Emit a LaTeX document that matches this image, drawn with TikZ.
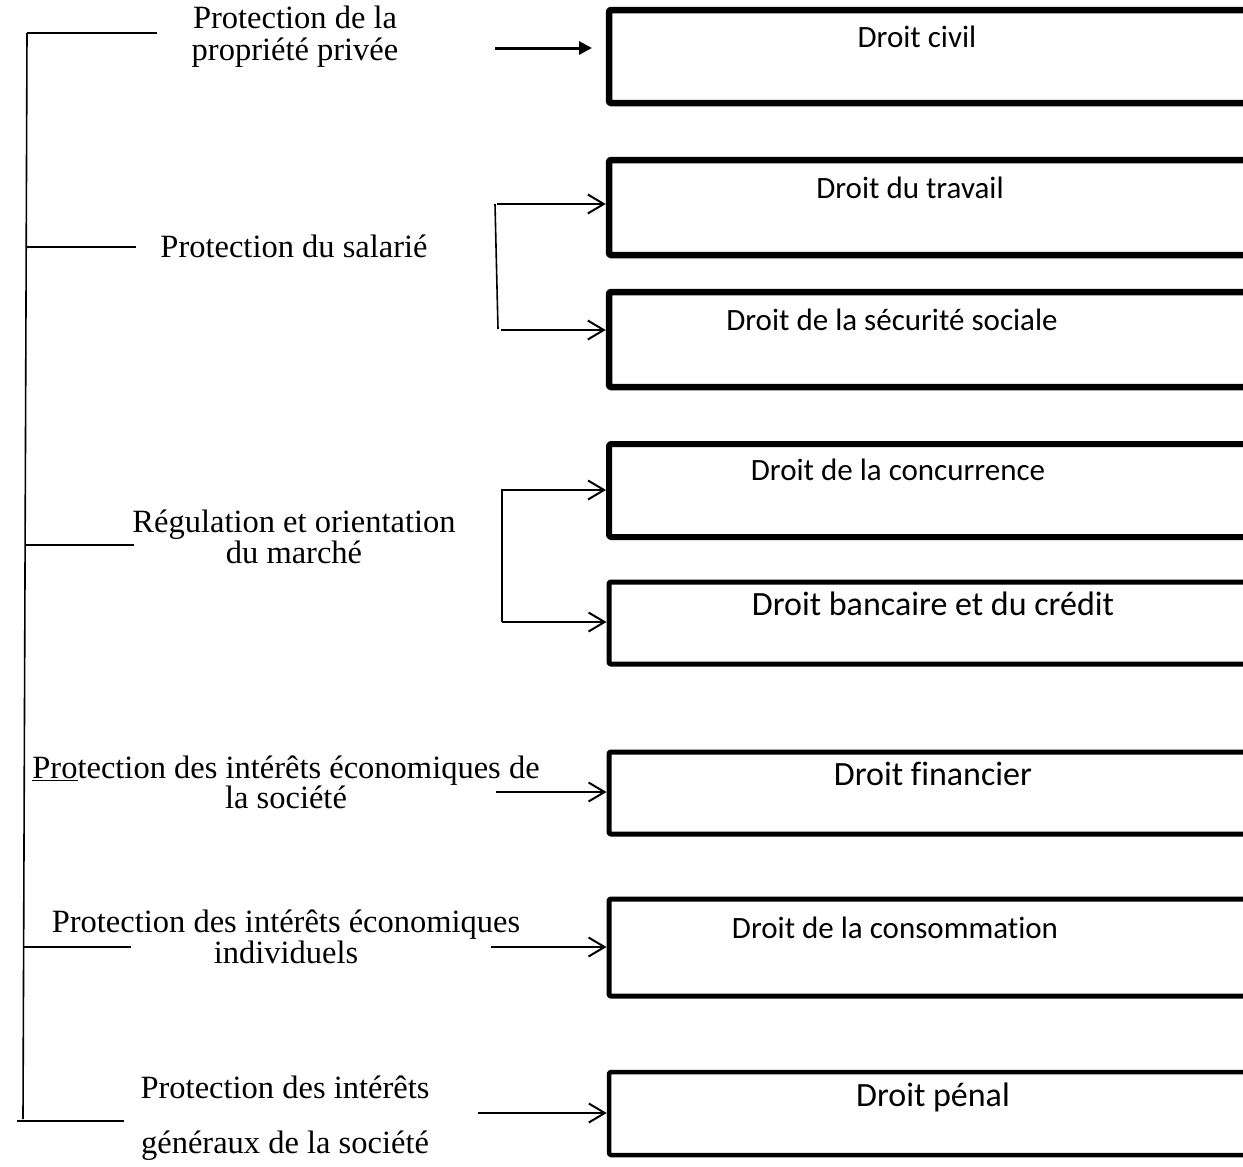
\documentclass[tikz,border=0pt]{standalone}
\usepackage{fontspec}
\setmainfont{Liberation Serif}
\newfontfamily\boxfont[Ligatures={NoCommon,NoDiscretionary,NoContextual}]{Carlito}
\usetikzlibrary{arrows.meta}
\begin{document}
\begin{tikzpicture}[x=1pt,y=-1pt,
  lefttext/.style={font=\fontsize{32.5}{32}\selectfont, inner sep=0pt, anchor=base},
  boxtext/.style={font=\boxfont\fontsize{31}{31}\selectfont, inner sep=0pt, anchor=base},
  bigboxtext/.style={font=\boxfont\fontsize{34}{34}\selectfont, inner sep=0pt, anchor=base},
  lawbox/.style={draw, minimum width=700pt, inner sep=0pt, line join=round, rounded corners=1.5pt},
  thinline/.style={line width=1.6pt},
  arr/.style={line width=2pt, -{Straight Barb[length=16pt,width=19pt]}},
  heavyarr/.style={line width=3pt, -{Triangle[length=13pt,width=13pt]}},
]
\useasboundingbox (0,0) rectangle (1243,1167);
\clip (0,0) rectangle (1243,1167);

% ---------- boxes ----------
\node[lawbox, line width=6.5pt, minimum height=93pt] (b1) at (959,56.5) {};
\node[lawbox, line width=6.5pt, minimum height=95pt] (b2) at (959,207.5) {};
\node[lawbox, line width=6.5pt, minimum height=95pt] (b3) at (959,339.5) {};
\node[lawbox, line width=6pt,   minimum height=93pt] (b4) at (959,490.5) {};
\node[lawbox, line width=5pt,   minimum height=82pt] (b5) at (959,623) {};
\node[lawbox, line width=5pt,   minimum height=82pt] (b6) at (959,793) {};
\node[lawbox, line width=5pt,   minimum height=97pt] (b7) at (959,947.5) {};
\node[lawbox, line width=4.5pt, minimum height=83pt] (b8) at (959,1113.5) {};

\node[boxtext]    (l1) at (917,47)    {Droit civil};
\node[boxtext]    (l2) at (910,198)   {Droit du travail};
\node[boxtext]    (l3) at (892,330)   {Droit de la sécurité sociale};
\node[boxtext]    (l4) at (898,480)   {Droit de la concurrence};
\node[bigboxtext] (l5) at (933,615)   {Droit bancaire et du crédit};
\node[bigboxtext] (l6) at (933,785)   {Droit financier};
\node[boxtext]    (l7) at (895,938)   {Droit de la consommation};
\node[bigboxtext] (l8) at (933,1106)  {Droit pénal};

% ---------- left texts ----------
\node[lefttext] (t1a) at (295,28)   {Protection de la};
\node[lefttext] (t1b) at (295,60)   {propriété privée};
\node[lefttext] (t2)  at (294,257)  {Protection du salarié};
\node[lefttext] (t3a) at (294,532)  {Régulation et orientation};
\node[lefttext] (t3b) at (294,563)  {du marché};
\node[lefttext] (t4a) at (286,778)  {\underline{Pro}tection des intérêts économiques de};
\node[lefttext] (t4b) at (286,808)  {la société};
\node[lefttext] (t5a) at (286,932)  {Protection des intérêts économiques};
\node[lefttext] (t5b) at (286,963)  {individuels};
\node[lefttext] (t6a) at (285,1098) {Protection des intérêts};
\node[lefttext] (t6b) at (285,1153) {généraux de la société};

% ---------- trunk and branches ----------
\coordinate (trtop) at (27,33);
\coordinate (trbot) at (23,1119);
\coordinate (j2) at (26.2,247);
\coordinate (j3) at (25.1,545);
\coordinate (j5) at (23.6,947);
\coordinate (e1) at (157,33);
\coordinate (e2) at (136,247);
\coordinate (e3) at (134,545);
\coordinate (e5) at (131,947);
\coordinate (e6s) at (17,1121);
\coordinate (e6) at (124,1121);
\draw[thinline] (trtop) -- (trbot);
\draw[thinline] (trtop) -- (e1);
\draw[thinline] (j2) -- (e2);
\draw[thinline] (j3) -- (e3);
\draw[thinline] (j5) -- (e5);
\draw[thinline] (e6s) -- (e6);

% ---------- arrows ----------
\coordinate (s1) at (495,48);
\coordinate (s1e) at (592,48);
\draw[heavyarr] (s1) -- (s1e);

\coordinate (k2a) at (495,204);
\coordinate (k2b) at (498,329);
\coordinate (s2) at (497,204);
\coordinate (s3) at (501,330);
\draw[thinline] (k2a) -- (k2b);
\draw[arr] (s2) -- (s2 -| b2.west);
\draw[arr] (s3) -- (s3 -| b3.west);

\coordinate (k4) at (502,490);
\coordinate (k5) at (502,622);
\draw[arr] (k5) -- (k4) -- (k4 -| b4.west);
\draw[arr] (k5) -- (k5 -| b5.west);

\coordinate (s6) at (496,792);
\draw[arr] (s6) -- (s6 -| b6.west);
\coordinate (s7) at (491,947);
\draw[arr] (s7) -- (s7 -| b7.west);
\coordinate (s8) at (478,1113);
\draw[arr] (s8) -- (s8 -| b8.west);
\end{tikzpicture}
\end{document}
